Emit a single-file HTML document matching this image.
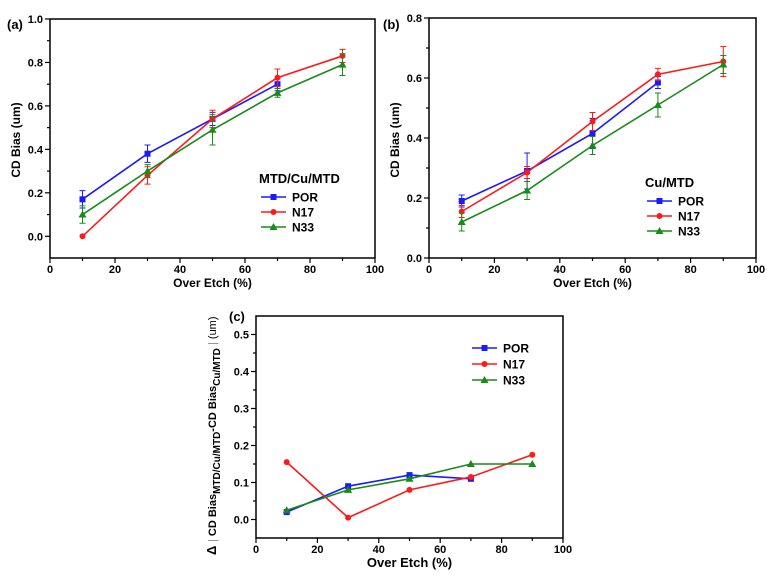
<!DOCTYPE html>
<html><head><meta charset="utf-8"><style>
html,body{margin:0;padding:0;background:#fff;}
svg{display:block;font-family:"Liberation Sans",sans-serif;font-weight:bold;}
</style></head><body>
<svg id="c" width="767" height="579" viewBox="0 0 767 579"></svg>
<script>
const xCats=[10,30,50,70,90];
const aPOR=[0.17,0.38,0.54,0.70];const aPORe=[0.04,0.04,0.03,0.03];
const aN17=[0.0,0.28,0.54,0.73,0.83];const aN17e=[0,0.04,0.04,0.04,0.03];
const aN33=[0.10,0.30,0.49,0.66,0.79];const aN33e=[0.04,0.03,0.07,0.02,0.05];
const bPOR=[0.19,0.29,0.415,0.585];const bPORe=[0.02,0.06,0.05,0.02];
const bN17=[0.155,0.285,0.455,0.612,0.655];const bN17e=[0.02,0.02,0.03,0.02,0.05];
const bN33=[0.12,0.225,0.375,0.51,0.645];const bN33e=[0.03,0.03,0.03,0.04,0.03];
const cPOR=[0.02,0.09,0.12,0.11];
const cN17=[0.155,0.005,0.08,0.115,0.175];
const cN33=[0.025,0.08,0.11,0.15,0.15];
const xTicks=["0","20","40","60","80","100"];
const aYTicks=["0.0","0.2","0.4","0.6","0.8","1.0"];
const bYTicks=["0.0","0.2","0.4","0.6","0.8"];
const cYTicks=["0.0","0.1","0.2","0.3","0.4","0.5"];
const NS="http://www.w3.org/2000/svg";
const svg=document.getElementById('c');
function el(tag,attrs,parent,text){const e=document.createElementNS(NS,tag);for(const k in attrs)e.setAttribute(k,attrs[k]);if(text!==undefined)e.textContent=text;(parent||svg).appendChild(e);return e;}
const COL={POR:'#1a1aff',N17:'#ff1a1a',N33:'#1a8a1a'};
function panel(p){
  const g=el('g',{});
  
  
  const X=v=>p.x0+(v-0)/100*(p.x1-p.x0);
  const Y=v=>p.yb-(v-p.ymin)/(p.ymax-p.ymin)*(p.yb-p.yt);
  el('rect',{x:p.x0,y:p.yt,width:p.x1-p.x0,height:p.yb-p.yt,fill:'none',stroke:'#000','stroke-width':1.5},g);
  for(let i=0;i<=10;i++){const v=i*10;const x=X(v);const L=i%2?3:5;
    el('line',{x1:x,x2:x,y1:p.yb,y2:p.yb+L,stroke:'#000','stroke-width':1.2},g);
    if(i%2==0){const t=el('text',{x:x,y:p.yb+15,'text-anchor':'middle','font-size':11},g,xTicks[i/2]);}}
  p.yTicks.forEach((s,i)=>{const v=parseFloat(s);const y=Y(v);
    el('line',{x1:p.x0-5,x2:p.x0,y1:y,y2:y,stroke:'#000','stroke-width':1.2},g);
    const mv=v+p.step/2;if(mv<p.ymax)el('line',{x1:p.x0-3,x2:p.x0,y1:Y(mv),y2:Y(mv),stroke:'#000','stroke-width':1.2},g);
    const t=el('text',{x:p.x0-7,y:y+4,'text-anchor':'end','font-size':11},g,s);});
  if(p.ymin+p.step/2<0){const mv=-p.step/2;if(mv>=p.ymin)el('line',{x1:p.x0-3,x2:p.x0,y1:Y(mv),y2:Y(mv),stroke:'#000','stroke-width':1.2},g);}
  const xt=el('text',{x:(p.x0+p.x1)/2,y:p.yb+29,'text-anchor':'middle','font-size':p.xfs||12},g,'Over Etch (%)');
  
  const pl=el('text',{x:p.lx,y:p.ly,'font-size':13},g,p.label);
  
  p.series.forEach(s=>{
    const sg=el('g',{},g);
    const c=COL[s.k];
    const pts=s.v.map((v,i)=>X(xCats[i])+','+Y(v)).join(' ');
    el('polyline',{points:pts,fill:'none',stroke:c,'stroke-width':1.6},sg);
    s.v.forEach((v,i)=>{const x=X(xCats[i]),y=Y(v);
      if(s.e&&s.e[i]>0){const e=s.e[i];el('path',{d:`M${x},${Y(v-e)}V${Y(v+e)}M${x-3},${Y(v-e)}h6M${x-3},${Y(v+e)}h6`,stroke:c,'stroke-width':1,fill:'none'},sg);}
      marker(sg,s.k,x,y,c);});
  });
  // legend
  const lg=el('g',{},g);
  if(p.legTitle){const t=el('text',{x:p.legX-2,y:p.legY-14,'font-size':13},lg,p.legTitle);}
  ['POR','N17','N33'].forEach((k,i)=>{const y=p.legY+i*p.legDy;const c=COL[k];
    const eg=el('g',{},lg);
    el('line',{x1:p.legX,x2:p.legX+25,y1:y,y2:y,stroke:c,'stroke-width':1.6},eg);
    marker(eg,k,p.legX+12.5,y,c);
    el('text',{x:p.legX+31,y:y+4.5,'font-size':12},eg,k);});
  return {g,X,Y};
}
function marker(g,k,x,y,c){
  if(k==='POR')el('rect',{x:x-3,y:y-3,width:6,height:6,fill:c},g);
  else if(k==='N17')el('circle',{cx:x,cy:y,r:3,fill:c},g);
  else el('polygon',{points:`${x},${y-4} ${x-4},${y+3} ${x+4},${y+3}`,fill:c},g);
}
panel({name:'panel-a',x0:50,x1:375,yt:19,yb:258,ymin:-0.1,ymax:1.0,step:0.2,yTicks:aYTicks,label:'(a)',lx:7,ly:29,
  series:[{k:'POR',v:aPOR,e:aPORe},{k:'N17',v:aN17,e:aN17e},{k:'N33',v:aN33,e:aN33e}],
  legTitle:'MTD/Cu/MTD',legX:261,legY:197,legDy:15});
const t1=el('text',{transform:'translate(20,140) rotate(-90)','text-anchor':'middle','font-size':12},svg,'CD Bias (um)');

panel({name:'panel-b',x0:429,x1:756,yt:18,yb:258,ymin:0,ymax:0.8,step:0.2,yTicks:bYTicks,label:'(b)',lx:383,ly:29,
  series:[{k:'POR',v:bPOR,e:bPORe},{k:'N17',v:bN17,e:bN17e},{k:'N33',v:bN33,e:bN33e}],
  legTitle:'Cu/MTD',legX:647,legY:201,legDy:15});
const t2=el('text',{transform:'translate(399,140) rotate(-90)','text-anchor':'middle','font-size':12},svg,'CD Bias (um)');

panel({name:'panel-c',x0:256,x1:563,yt:316,yb:538,ymin:-0.05,ymax:0.55,step:0.1,yTicks:cYTicks,label:'(c)',lx:229,ly:321,xfs:13,
  series:[{k:'POR',v:cPOR},{k:'N17',v:cN17},{k:'N33',v:cN33}],
  legTitle:null,legX:472,legY:348,legDy:16});
const t3=el('text',{transform:'translate(216,555) rotate(-90)','font-size':11},svg);

el('tspan',{'font-size':13},t3,'Δ ');
el('tspan',{'font-weight':'normal','fill':'#888'},t3,'| ');
el('tspan',{},t3,'CD Bias');
el('tspan',{dy:4,'font-size':10},t3,'MTD/Cu/MTD');
el('tspan',{dy:-4},t3,'-CD Bias');
el('tspan',{dy:4,'font-size':10},t3,'Cu/MTD');
el('tspan',{dy:-4,'font-weight':'normal','fill':'#888'},t3,' | ');
el('tspan',{'font-weight':'normal'},t3,'(um)');
</script>
</body></html>
